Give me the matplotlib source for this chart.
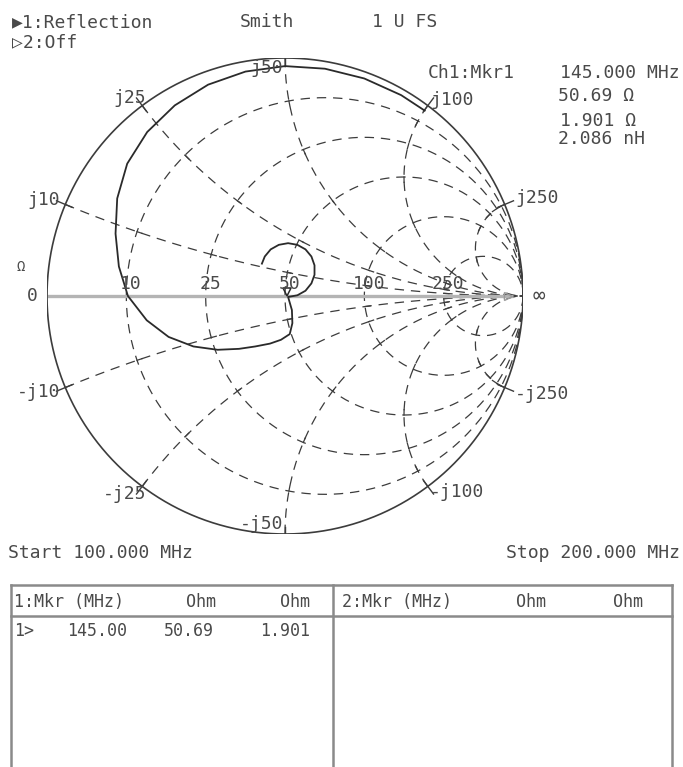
import numpy as np
import matplotlib
matplotlib.use('Agg')
import matplotlib.pyplot as plt

W, H, DPI = 683, 767, 100

# ---------------- data ----------------
Z0 = 50.0
r_grid_ohm = [10, 25, 50, 100, 250]
x_grid_ohm = [10, 25, 50, 100, 250]
r_tick_labels = ['10', '25', '50', '100', '250']
x_pos_labels = ['j10', 'j25', 'j50', 'j100', 'j250']
x_neg_labels = ['-j10', '-j25', '-j50', '-j100', '-j250']

gamma_re = [0.587, 0.488, 0.333, 0.168, 0.000, -0.166, -0.323, -0.463, -0.579,
            -0.663, -0.705, -0.712, -0.698, -0.660, -0.581, -0.489, -0.385,
            -0.283, -0.193, -0.125, -0.063, -0.017, 0.020, 0.031, 0.029,
            0.013, 0.052, 0.086, 0.111, 0.124, 0.124, 0.111, 0.086, 0.052,
            0.013, -0.026, -0.060, -0.085, -0.097]
gamma_im = [0.779, 0.844, 0.914, 0.955, 0.966, 0.943, 0.888, 0.801, 0.689,
            0.556, 0.410, 0.262, 0.124, 0.000, -0.102, -0.172, -0.212,
            -0.226, -0.222, -0.212, -0.200, -0.184, -0.160, -0.114, -0.059,
            -0.004, 0.003, 0.022, 0.053, 0.089, 0.129, 0.166, 0.196, 0.215,
            0.222, 0.215, 0.196, 0.166, 0.136]

mkr_freq_mhz = 145.000
mkr_r_ohm = 50.69
mkr_x_ohm = 1.901
mkr_l_nh = 2.086
start_mhz = 100.000
stop_mhz = 200.000

# ---------------- layout helpers ----------------
CX, CY, R = 285, 296, 238   # chart centre / radius in pixels


def fx(px):
    return px / W


def fy(py):
    return 1 - py / H


FONT = ['DejaVu Sans Mono', 'DejaVu Sans']
TC = '#4a4a4a'
FS = 13.0

fig = plt.figure(figsize=(W / DPI, H / DPI), dpi=DPI)
fig.patch.set_facecolor('white')

ax = fig.add_axes([fx(CX - R), fy(CY + R), 2 * R / W, 2 * R / H])
ax.set_xlim(-1, 1)
ax.set_ylim(-1, 1)
ax.axis('off')

LC = '#3c3c3c'
DASH = (0, (7.5, 5.5))


def gamma(z):
    return (z - 1) / (z + 1)


# resistance circles
xs = np.concatenate([-np.logspace(3, -3, 400), np.logspace(-3, 3, 400)])
for r in r_grid_ohm:
    g = gamma(r / Z0 + 1j * xs)
    ax.plot(g.real, g.imag, color=LC, lw=0.9, ls=DASH)
# reactance arcs
rs = np.logspace(-3, 3, 600)
rs = np.concatenate([[0.0], rs])
for xv in x_grid_ohm:
    for sgn in (1, -1):
        g = gamma(rs + 1j * sgn * xv / Z0)
        ax.plot(g.real, g.imag, color=LC, lw=0.9, ls=DASH)

# small tick marks at grid intersections
for r in r_grid_ohm:
    for xv in x_grid_ohm:
        for sgn in (1, -1):
            z = r / Z0 + 1j * sgn * xv / Z0
            g0 = gamma(z)
            g1 = gamma(z + 0.06 * (r / Z0 + 0.2))
            d = (g1 - g0)
            d = d / abs(d) * 0.022
            ax.plot([g0.real, g0.real + d.real], [g0.imag, g0.imag + d.imag],
                    color=LC, lw=0.9)

# real axis
ax.plot([-1, 0.96], [0, 0], color='#b4b4b4', lw=2.4, solid_capstyle='butt')
ax.plot([0.935], [0], marker='>', ms=6, color='#9a9a9a', mfc='none', mew=1)

# outer circle
t = np.linspace(0, 2 * np.pi, 800)
ax.plot(np.cos(t), np.sin(t), color=LC, lw=1.2)

# tick marks where reactance arcs meet the outer circle
for xv in x_grid_ohm:
    for sgn in (1, -1):
        g = gamma(1j * sgn * xv / Z0)
        ax.plot([0.97 * g.real, 1.04 * g.real], [0.97 * g.imag, 1.04 * g.imag], color=LC, lw=1.0)

# trace
ax.plot(gamma_re, gamma_im, color='#2a2a2a', lw=1.3)

# marker
gm = gamma((mkr_r_ohm + 1j * mkr_x_ohm) / Z0)
ax.plot([gm.real], [gm.imag], marker='v', ms=6, color='#2a2a2a', mfc='none', mew=1.1)

# resistance labels on the real axis
for r, lab in zip(r_grid_ohm, r_tick_labels):
    g = gamma(r / Z0)
    ax.text(g.real + 0.02, 0.05, lab, ha='center', va='center', family=FONT,
            fontsize=FS, color=TC)
ax.text(-1.04, 0, '0', ha='right', va='center', family=FONT, fontsize=FS, color=TC)
ax.text(1.04, 0, '∞', ha='left', va='center', family=FONT, fontsize=FS + 2, color=TC)
ax.text(-1.11, 0.12, 'Ω', ha='center', va='center', family=FONT, fontsize=FS - 3, color=TC)

# reactance labels (pixel anchored)
pos_lab_px = [(60, 200, 'right'), (146, 98, 'right'), (283, 68, 'right'),
              (430, 100, 'left'), (515, 198, 'left')]
for (px, py, ha), lp, ln in zip(pos_lab_px, x_pos_labels, x_neg_labels):
    fig.text(fx(px), fy(py), lp, ha=ha, va='center', family=FONT, fontsize=FS, color=TC)
    fig.text(fx(px), fy(2 * CY - py), ln, ha=ha, va='center', family=FONT,
             fontsize=FS, color=TC)

# header texts
fig.text(fx(12), fy(22), '▶1:Reflection', ha='left', va='center', family=FONT, fontsize=FS, color=TC)
fig.text(fx(12), fy(42), '▷2:Off', ha='left', va='center', family=FONT, fontsize=FS, color=TC)
fig.text(fx(240), fy(22), 'Smith', ha='left', va='center', family=FONT, fontsize=FS, color=TC)
fig.text(fx(372), fy(22), '1 U FS', ha='left', va='center', family=FONT, fontsize=FS, color=TC)

fig.text(fx(428), fy(73), 'Ch1:Mkr1', ha='left', va='center', family=FONT, fontsize=FS, color=TC)
fig.text(fx(680), fy(73), f'{mkr_freq_mhz:.3f} MHz', ha='right', va='center', family=FONT, fontsize=FS, color=TC)
fig.text(fx(558), fy(96), f'{mkr_r_ohm:.2f} Ω', ha='left', va='center', family=FONT, fontsize=FS, color=TC)
fig.text(fx(560), fy(121), f'{mkr_x_ohm:.3f} Ω', ha='left', va='center', family=FONT, fontsize=FS, color=TC)
fig.text(fx(558), fy(139), f'{mkr_l_nh:.3f} nH', ha='left', va='center', family=FONT, fontsize=FS, color=TC)

fig.text(fx(8), fy(553), f'Start {start_mhz:.3f} MHz', ha='left', va='center', family=FONT, fontsize=FS, color=TC)
fig.text(fx(680), fy(553), f'Stop {stop_mhz:.3f} MHz', ha='right', va='center', family=FONT, fontsize=FS, color=TC)

# table
TOP, HLINE, BOT = 585, 616, 770
L, M, Rr = 11, 333, 672
tc = '#8a8a8a'
for xx in (L, M, Rr):
    fig.add_artist(plt.Line2D([fx(xx), fx(xx)], [fy(TOP), fy(BOT)], color=tc, lw=1.8))
for yy in (TOP, HLINE):
    fig.add_artist(plt.Line2D([fx(L), fx(Rr)], [fy(yy), fy(yy)], color=tc, lw=1.8))

hdr_y = 602
fig.text(fx(14), fy(hdr_y), '1:Mkr (MHz)', ha='left', va='center', family=FONT, fontsize=FS - 1, color=TC)
fig.text(fx(216), fy(hdr_y), 'Ohm', ha='right', va='center', family=FONT, fontsize=FS - 1, color=TC)
fig.text(fx(310), fy(hdr_y), 'Ohm', ha='right', va='center', family=FONT, fontsize=FS - 1, color=TC)
fig.text(fx(342), fy(hdr_y), '2:Mkr (MHz)', ha='left', va='center', family=FONT, fontsize=FS - 1, color=TC)
fig.text(fx(546), fy(hdr_y), 'Ohm', ha='right', va='center', family=FONT, fontsize=FS - 1, color=TC)
fig.text(fx(643), fy(hdr_y), 'Ohm', ha='right', va='center', family=FONT, fontsize=FS - 1, color=TC)

row_y = 631
fig.text(fx(14), fy(row_y), '1>', ha='left', va='center', family=FONT, fontsize=FS - 1, color=TC)
fig.text(fx(127), fy(row_y), f'{mkr_freq_mhz:.2f}', ha='right', va='center', family=FONT, fontsize=FS - 1, color=TC)
fig.text(fx(214), fy(row_y), f'{mkr_r_ohm:.2f}', ha='right', va='center', family=FONT, fontsize=FS - 1, color=TC)
fig.text(fx(310), fy(row_y), f'{mkr_x_ohm:.3f}', ha='right', va='center', family=FONT, fontsize=FS - 1, color=TC)

fig.savefig('out.png', dpi=DPI, facecolor='white')
